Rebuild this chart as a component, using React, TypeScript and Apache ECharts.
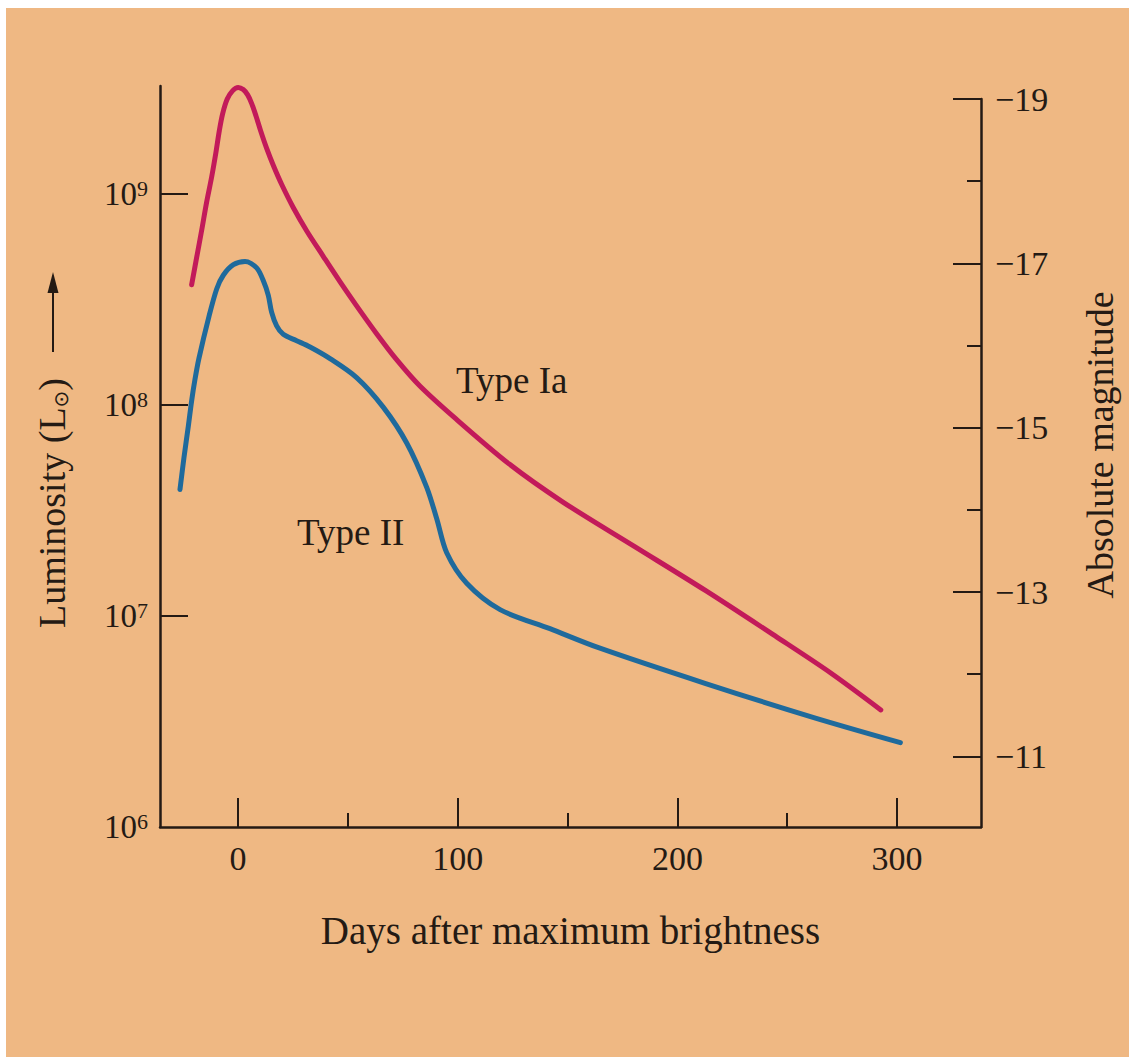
import React, { useEffect, useRef } from "react";
import * as echarts from "echarts";

// ---- Data ----
// Days after maximum brightness and log10(L / L_sun)
const typeIaDays = [-21.1, -18.8, -16.5, -14.3, -12.0, -10.0, -8.5, -7.0, -4.9, -2.4, 0.1, 2.4, 4.4, 6.2, 8.2, 10.3, 13.1, 16.1, 19.9, 25.2, 31.3, 38.8, 46.4, 54.0, 63.1, 72.2, 82.8, 99.1, 123.5, 147.9, 180.4, 212.9, 245.3, 269.8, 292.6];
const typeIaLogL = [8.57, 8.70, 8.83, 8.96, 9.08, 9.20, 9.30, 9.38, 9.45, 9.49, 9.505, 9.495, 9.47, 9.43, 9.37, 9.30, 9.215, 9.135, 9.045, 8.935, 8.825, 8.705, 8.585, 8.47, 8.338, 8.215, 8.09, 7.935, 7.72, 7.54, 7.33, 7.12, 6.90, 6.73, 6.555];

const typeIIDays = [-26.4, -24.6, -22.6, -21.1, -19.6, -17.8, -13.2, -9.7, -6.7, -2.1, 3.2, 8.5, 11.5, 13.8, 15.3, 17.6, 20.6, 26.7, 32.8, 41.9, 54.0, 66.1, 76.8, 85.9, 90.5, 95.0, 104.1, 119.3, 142.0, 164.1, 212.9, 261.7, 301.5];
const typeIILogL = [7.60, 7.75, 7.90, 8.02, 8.12, 8.22, 8.42, 8.55, 8.615, 8.665, 8.68, 8.65, 8.59, 8.52, 8.44, 8.375, 8.335, 8.305, 8.275, 8.22, 8.13, 7.99, 7.82, 7.61, 7.46, 7.30, 7.155, 7.03, 6.94, 6.85, 6.68, 6.52, 6.40];

const dayMajorTicks = [0, 100, 200, 300];
const dayMinorTicks = [50, 150, 250];
const lumExponents = [6, 7, 8, 9];
const lumTicks = [7, 8, 9];
const magMajorTicks = [-19, -17, -15, -13, -11];
const magMinorTicks = [-18, -16, -14, -12];

const seriesNames = ["Type Ia", "Type II"];

const FONT = '"Liberation Serif", "Times New Roman", serif';
const INK = "#241a14";
const RED = "#c21a5a";
const BLUE = "#1f6a9c";
const PEACH = "#efb883";

const X_MIN = -35.5;
const X_MAX = 338.2;

export default function App() {
  const ref = useRef<HTMLDivElement>(null);

  useEffect(() => {
    if (!ref.current) return;
    const chart = echarts.init(ref.current, null, { renderer: "svg" });

    const gridMain = { left: 160, top: 86, width: 821, height: 741 };
    const gridMag = { left: 160, top: 99, width: 821, height: 728 };

    const tickLine = { color: INK, width: 2 };
    const axisLineStyle = { color: INK, width: 2.5 };

    const option: any = {
      animation: false,
      backgroundColor: "transparent",
      grid: [
        { ...gridMain, containLabel: false },
        { ...gridMag, containLabel: false },
        { ...gridMag, containLabel: false },
      ],
      xAxis: [
        {
          type: "value",
          gridIndex: 0,
          min: X_MIN,
          max: X_MAX,
          position: "bottom",
          axisLine: { show: true, onZero: false, lineStyle: axisLineStyle },
          axisTick: { show: true, inside: true, length: 29, customValues: dayMajorTicks, lineStyle: tickLine },
          axisLabel: {
            show: true,
            customValues: dayMajorTicks,
            margin: 14,
            fontSize: 34,
            fontFamily: FONT,
            color: INK,
          },
          splitLine: { show: false },
          name: "Days after maximum brightness",
          nameLocation: "middle",
          nameGap: 84,
          nameTextStyle: { fontSize: 39, fontFamily: FONT, color: INK },
        },
        {
          type: "value",
          gridIndex: 1,
          min: X_MIN,
          max: X_MAX,
          position: "bottom",
          axisLine: { show: false },
          axisTick: { show: true, inside: true, length: 14, customValues: dayMinorTicks, lineStyle: tickLine },
          axisLabel: { show: false },
          splitLine: { show: false },
        },
        {
          type: "value",
          gridIndex: 2,
          min: X_MIN,
          max: X_MAX,
          show: false,
        },
      ],
      yAxis: [
        {
          type: "value",
          gridIndex: 0,
          min: 6,
          max: 9.512,
          position: "left",
          axisLine: { show: true, onZero: false, lineStyle: axisLineStyle },
          axisTick: { show: true, inside: true, length: 28, customValues: lumTicks, lineStyle: tickLine },
          axisLabel: {
            show: true,
            customValues: lumExponents,
            margin: 12,
            formatter: (v: number) => `{b|10}{s|${Math.round(v)}}`,
            rich: {
              b: { fontSize: 33, fontFamily: FONT, color: INK },
              s: { fontSize: 22, fontFamily: FONT, color: INK, verticalAlign: "top" },
            },
          },
          splitLine: { show: false },
        },
        {
          type: "value",
          gridIndex: 1,
          min: -19,
          max: -10.14,
          inverse: true,
          position: "right",
          axisLine: { show: true, onZero: false, lineStyle: axisLineStyle },
          axisTick: { show: true, inside: true, length: 28, customValues: magMajorTicks, lineStyle: tickLine },
          axisLabel: {
            show: true,
            customValues: magMajorTicks,
            margin: 14,
            fontSize: 34,
            fontFamily: FONT,
            color: INK,
            formatter: (v: number) => "\u2212" + Math.abs(Math.round(v)),
          },
          splitLine: { show: false },
        },
        {
          type: "value",
          gridIndex: 2,
          min: -19,
          max: -10.14,
          inverse: true,
          position: "right",
          axisLine: { show: false, onZero: false },
          axisTick: { show: true, inside: true, length: 14, customValues: magMinorTicks, lineStyle: tickLine },
          axisLabel: { show: false },
          splitLine: { show: false },
        },
      ],
      series: [
        {
          name: seriesNames[0],
          type: "line",
          xAxisIndex: 0,
          yAxisIndex: 0,
          data: typeIaDays.map((d, i) => [d, typeIaLogL[i]]),
          smooth: 0.3,
          symbol: "none",
          lineStyle: { color: RED, width: 5, cap: "round", join: "round" },
          itemStyle: { color: RED },
        },
        {
          name: seriesNames[1],
          type: "line",
          xAxisIndex: 0,
          yAxisIndex: 0,
          data: typeIIDays.map((d, i) => [d, typeIILogL[i]]),
          smooth: 0.3,
          symbol: "none",
          lineStyle: { color: BLUE, width: 5, cap: "round", join: "round" },
          itemStyle: { color: BLUE },
        },
      ],
      graphic: [
        {
          type: "text",
          x: 456,
          y: 380,
          style: { text: seriesNames[0], fontSize: 37, fontFamily: FONT, fill: INK, align: "left", verticalAlign: "middle" },
        },
        {
          type: "text",
          x: 297,
          y: 532,
          style: { text: seriesNames[1], fontSize: 37, fontFamily: FONT, fill: INK, align: "left", verticalAlign: "middle" },
        },
        {
          type: "text",
          x: 1100,
          y: 445,
          rotation: Math.PI / 2,
          style: { text: "Absolute magnitude", fontSize: 38, fontFamily: FONT, fill: INK, align: "center", verticalAlign: "middle" },
        },
        {
          type: "text",
          x: 52,
          y: 503,
          rotation: Math.PI / 2,
          style: {
            text: "Luminosity (L{s|\u2299})",
            fontSize: 38,
            fontFamily: FONT,
            fill: INK,
            align: "center",
            verticalAlign: "middle",
            rich: {
              s: { fontSize: 20, fontFamily: "DejaVu Sans", fill: INK, verticalAlign: "bottom" },
            },
          },
        },
        {
          type: "line",
          shape: { x1: 53, y1: 352, x2: 53, y2: 290 },
          style: { stroke: INK, lineWidth: 2 },
        },
        {
          type: "polygon",
          shape: { points: [[53, 272], [47.5, 293], [58.5, 293]] },
          style: { fill: INK },
        },
      ],
    };

    chart.setOption(option);
    return () => chart.dispose();
  }, []);

  return (
    <div style={{ position: "absolute", left: 0, top: 0, width: 1133, height: 1057, background: "#ffffff", overflow: "hidden" }}>
      <div style={{ position: "absolute", left: 6, top: 8, width: 1123, height: 1049, background: PEACH }} />
      <div ref={ref} style={{ position: "absolute", left: 0, top: 0, width: 1133, height: 1057 }} />
    </div>
  );
}
